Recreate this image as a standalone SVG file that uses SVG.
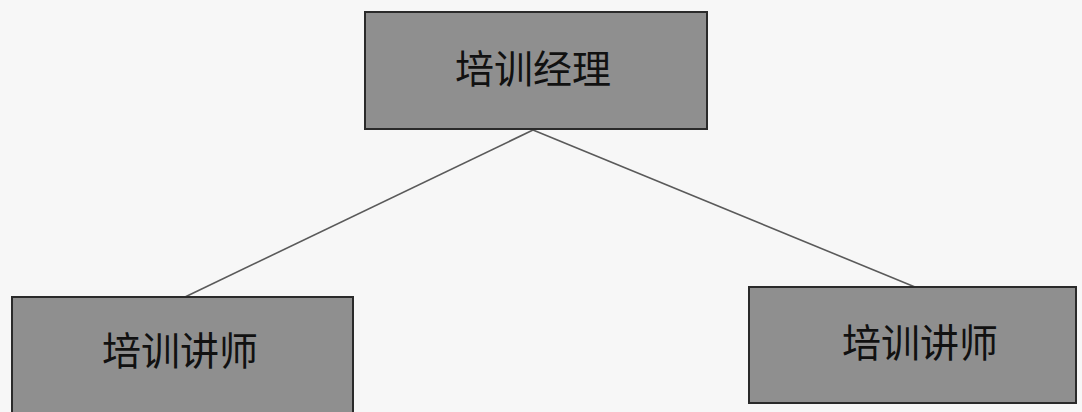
<svg xmlns="http://www.w3.org/2000/svg" width="1082" height="412" viewBox="0 0 1082 412">
<style>
.box{fill:#8f8f8f;stroke:#2a2a2a;stroke-width:2}
.lbl{font-family:"Noto Sans CJK SC","Noto Sans",sans-serif;font-size:39px;fill:#111111;text-anchor:middle;dominant-baseline:central}
.conn{stroke:#5a5a5a;stroke-width:1.6;fill:none}
</style>
<rect width="1082" height="412" fill="#f7f7f7"/>
<g id="connectors">
<line class="conn" x1="533" y1="130" x2="185" y2="297"/>
<line class="conn" x1="533" y1="130" x2="915" y2="287"/>
</g>
<g id="manager">
<rect class="box" x="365" y="12" width="342" height="117"/>
<text class="lbl" x="533" y="66">培训经理</text>
</g>
<g id="trainer-left">
<rect class="box" x="12" y="297" width="341" height="125"/>
<text class="lbl" x="180" y="348">培训讲师</text>
</g>
<g id="trainer-right">
<rect class="box" x="749" y="287" width="327" height="116"/>
<text class="lbl" x="920" y="340">培训讲师</text>
</g>
</svg>
